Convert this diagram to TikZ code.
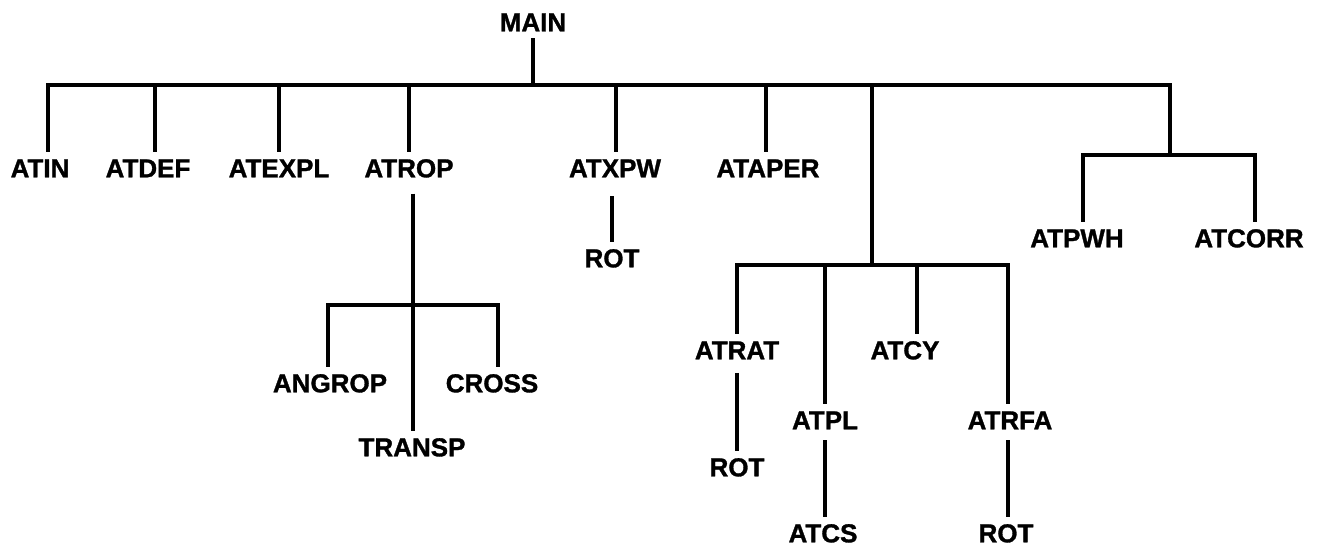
\documentclass[tikz,border=0pt]{standalone}
\usepackage{fontspec}
\setmainfont{Liberation Sans}[BoldFeatures={FakeBold=1.2}]
\usetikzlibrary{positioning}

\begin{document}
\begin{tikzpicture}[x=0.75pt, y=-0.75pt,
  routine/.style={font=\fontsize{19.5}{22}\selectfont\bfseries,
                  text height=14pt, text depth=0pt, inner sep=5pt},
  wire/.style={draw=black, line width=2.9pt, line join=miter}
]
  \useasboundingbox (0,0) rectangle (1328,560);

  % top level
  \node[routine] (main)   at (533,22)  {MAIN};
  \node[routine] (atin)   at (40,168)  {ATIN};
  \node[routine] (atdef)  at (148,168) {ATDEF};
  \node[routine] (atexpl) at (279,168) {ATEXPL};
  \node[routine] (atrop)  at (409,168) {ATROP};
  \node[routine] (atxpw)  at (615,168) {ATXPW};
  \node[routine] (ataper) at (768,168) {ATAPER};
  \node[routine] (atpwh)  at (1077,238) {ATPWH};
  \node[routine] (atcorr) at (1249,238) {ATCORR};

  % below ATROP
  \node[routine] (angrop) at (330,383) {ANGROP};
  \node[routine] (cross)  at (492,383) {CROSS};
  \node[routine] (transp) at (412,447) {TRANSP};

  % below ATXPW
  \node[routine] (rota) at (612,258) {ROT};

  % unnamed branch
  \node[routine] (atrat) at (737,350) {ATRAT};
  \node[routine] (atcy)  at (905,350) {ATCY};
  \node[routine] (atpl)  at (825,420) {ATPL};
  \node[routine] (atrfa) at (1010,420) {ATRFA};
  \node[routine] (rotb)  at (737,467) {ROT};
  \node[routine] (atcs)  at (823,533) {ATCS};
  \node[routine] (rotc)  at (1006,533) {ROT};

  % junctions
  \coordinate (busW) at (48,85);
  \coordinate (busE) at (1170,85);
  \coordinate (pwJ) at (1170,155);
  \coordinate (pwW) at (1083,155);
  \coordinate (pwE) at (1255,155);
  \coordinate (cyJ) at (872,265);
  \coordinate (cyW) at (737,265);
  \coordinate (cyE) at (1008,265);
  \coordinate (roJ) at (413,305);
  \coordinate (roW) at (328,305);
  \coordinate (roE) at (498,305);

  \draw[wire] (main) -- (main |- busW);
  \draw[wire] (atin.north -| busW) -- (busW) -- (busE) -- (pwJ);
  \draw[wire] (155,85) -- (atdef.north -| 155,85);
  \draw[wire] (atexpl |- busW) -- (atexpl);
  \draw[wire] (atrop |- busW) -- (atrop);
  \draw[wire] (616,85) -- (atxpw.north -| 616,85);
  \draw[wire] (766,85) -- (ataper.north -| 766,85);
  \draw[wire] (cyJ |- busW) -- (cyJ);

  \draw[wire] (pwW |- atpwh.north) -- (pwW) -- (pwE) -- (pwE |- atcorr.north);

  \draw[wire, shorten <=7pt] (roJ |- atrop.south) -- (roJ |- transp.north);
  \draw[wire] (roW |- angrop.north) -- (roW) -- (roE) -- (roE |- cross.north);

  \draw[wire, shorten <=9pt] (atxpw.south -| rota) -- (rota);

  \draw[wire] (cyW |- atrat.north) -- (cyW) -- (cyE) -- (cyE |- atrfa.north);
  \draw[wire] (atpl |- cyW) -- (atpl);
  \draw[wire] (917,265) -- (atcy.north -| 917,265);
  \draw[wire, shorten <=5pt] (atrat) -- (rotb);
  \draw[wire, shorten <=3pt] (atpl) -- (atpl |- atcs.north);
  \draw[wire, shorten <=3pt] (atrfa.south -| cyE) -- (cyE |- rotc.north);
\end{tikzpicture}
\end{document}
